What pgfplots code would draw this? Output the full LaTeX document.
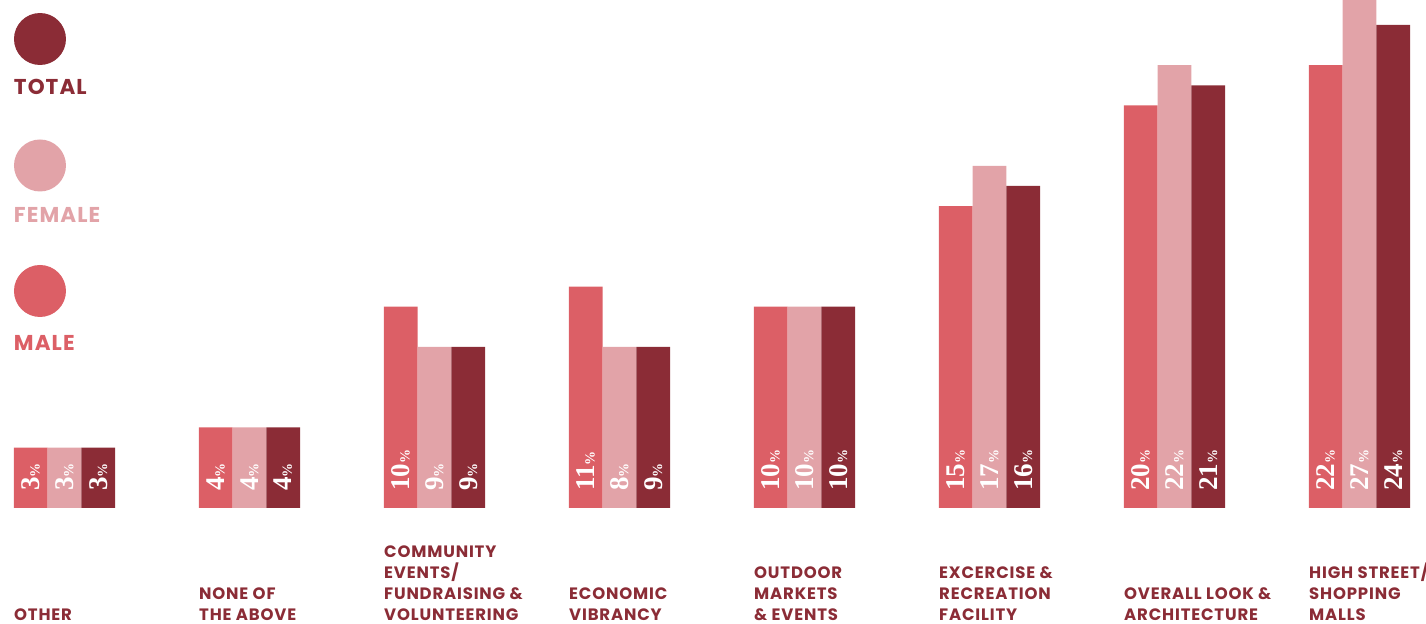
\documentclass[border=0pt]{standalone}
\usepackage{pgfplots}
\pgfplotsset{compat=1.18}
\usepackage{pgfplotstable}
\usepackage{fontspec}
\setsansfont{Poppins}[LetterSpace=5]
\newfontfamily\numfont{Liberation Serif}
\definecolor{male}{HTML}{DC5F66}
\definecolor{female}{HTML}{E2A3A8}
\definecolor{total}{HTML}{8B2C36}
\newcommand\lbl[1]{{\numfont\bfseries\fontsize{27}{27}\selectfont #1}{\numfont\bfseries\fontsize{14}{14}\selectfont\%}}

\pgfplotstableread{
x male female total ml fl tl
0 3 3 3 3 3 3
1 4 4 4 4 4 4
2 10 8 8 10 9 9
3 11 8 8 11 8 9
4 10 10 10 10 10 10
5 15 17 16 15 17 16
6 20 22 21 20 22 21
7 22 27 24 22 27 24
}\data

\begin{document}
\begin{tikzpicture}
\begin{axis}[
  scale only axis, width=1426pt, height=508pt,
  xmin=-0.348649, xmax=7.359459, ymin=0, ymax=25.236,
  axis line style={draw=none},
  major tick length=0pt,
  ytick=\empty,
  xtick={0,1,2,3,4,5,6,7},
  xticklabels={{OTHER},{NONE OF\\THE ABOVE},{COMMUNITY\\EVENTS/\\FUNDRAISING \&\\VOLUNTEERING},{ECONOMIC\\VIBRANCY},{OUTDOOR\\MARKETS\\\& EVENTS},{EXCERCISE \&\\RECREATION\\FACILITY},{OVERALL LOOK \&\\ARCHITECTURE},{HIGH STREET/\\SHOPPING\\MALLS}},
  xticklabel style={anchor=south west, align=left, inner sep=0pt, xshift=-50.5pt, yshift=-113pt, font=\sffamily\bfseries\fontsize{16.5}{21}\selectfont, text=total},
  reverse legend,
  legend cell align=left,
  legend style={draw=none, fill=none, inner sep=0pt, outer sep=0pt,
    at={(0.009818,0.84252)}, anchor=north west,
    row sep=113pt, column sep=0pt,
    nodes={inner sep=0pt, outer sep=0pt, text height=15pt, text depth=0pt},
    font=\sffamily\bfseries\fontsize{21.5}{21.5}\selectfont},
  every node near coord/.style={rotate=90, anchor=west, inner sep=0pt, text=white},
]
\addplot[ybar, bar width=33.7pt, bar shift=-33.7pt, fill=male, draw=none,
  legend image code/.code={\pgfinterruptboundingbox\fill[male] (26pt,52.5pt) circle[radius=26pt];\endpgfinterruptboundingbox}]
  table[x=x, y=male]{\data};
\addlegendentry{\textcolor{male}{MALE}}
\addplot[ybar, bar width=33.7pt, bar shift=0pt, fill=female, draw=none,
  legend image code/.code={\pgfinterruptboundingbox\fill[female] (26pt,50pt) circle[radius=26pt];\endpgfinterruptboundingbox}]
  table[x=x, y=female]{\data};
\addlegendentry{\textcolor{female}{FEMALE}}
\addplot[ybar, bar width=33.7pt, bar shift=33.7pt, fill=total, draw=none,
  legend image code/.code={\pgfinterruptboundingbox\fill[total] (26pt,48.5pt) circle[radius=26pt];\endpgfinterruptboundingbox}]
  table[x=x, y=total]{\data};
\addlegendentry{\textcolor{total}{TOTAL}}

\addplot[draw=none, mark=none, forget plot, point meta=explicit symbolic, nodes near coords={\lbl{\pgfplotspointmeta}}]
  table[x expr=\thisrow{x}-0.182162, y expr=0.85, meta=ml]{\data};
\addplot[draw=none, mark=none, forget plot, point meta=explicit symbolic, nodes near coords={\lbl{\pgfplotspointmeta}}]
  table[x expr=\thisrow{x}, y expr=0.85, meta=fl]{\data};
\addplot[draw=none, mark=none, forget plot, point meta=explicit symbolic, nodes near coords={\lbl{\pgfplotspointmeta}}]
  table[x expr=\thisrow{x}+0.182162, y expr=0.85, meta=tl]{\data};

\coordinate (bl) at (rel axis cs:0,0);
\coordinate (tr) at (rel axis cs:1,1);
\end{axis}
\pgfresetboundingbox
\path[use as bounding box] ([yshift=-116pt]bl) rectangle (tr);
\end{tikzpicture}
\end{document}
